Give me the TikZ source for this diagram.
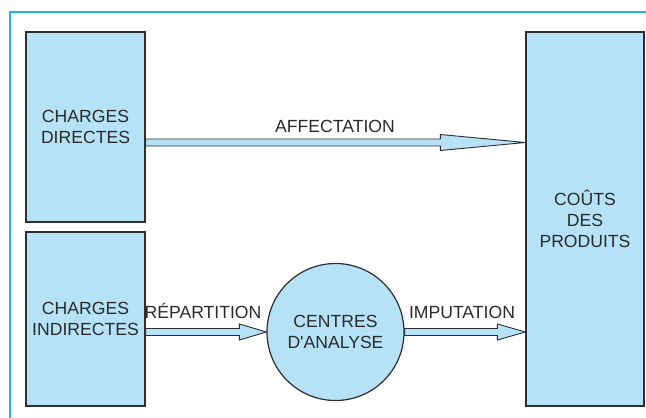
\documentclass[tikz,border=0pt]{standalone}
\usepackage{fontspec}
\setmainfont{Liberation Sans}
\usetikzlibrary{calc}
\usetikzlibrary{positioning}
\definecolor{boxblue}{HTML}{B5E2F7}
\definecolor{framecyan}{HTML}{22B2EC}
\definecolor{edgegray}{HTML}{2E2E2E}
\definecolor{textgray}{HTML}{2A2A2A}
\tikzset{every picture/.style={x=1pt, y=-1pt,
    font=\fontsize{17.6}{21}\selectfont}}
\tikzset{bloc/.style = {draw=edgegray, fill=boxblue, line width=1.2pt,
                        text=textgray, align=center, inner sep=0}}
\tikzset{lbl/.style = {text=textgray, inner sep=0, anchor=base}}
\tikzset{fat/.style = {draw=edgegray, fill=boxblue, line width=0.9pt,
    to path={let \p1=(\tikztostart), \p2=(\tikztotarget) in
      (\x1,\y2+3.5pt) -- (\x2-#1pt,\y2+3.5pt) -- (\x2-#1pt,\y2+8pt)
      -- (\x2,\y2) -- (\x2-#1pt,\y2-8pt) -- (\x2-#1pt,\y2-3.5pt)
      -- (\x1,\y2-3.5pt) -- cycle}}}

\begin{document}
\begin{tikzpicture}
      \useasboundingbox (0,0) rectangle (646,418);
      \draw[framecyan, line width=1.2pt] (10,418) -- (10,12) -- (646,12);
      \node[bloc, minimum width=119pt, minimum height=190pt] (cd)
        at (85.5,127) {CHARGES\\DIRECTES};
      \node[bloc, minimum width=119pt, minimum height=174pt] (ci)
        at (85.5,319) {CHARGES\\INDIRECTES};
      \node[bloc, minimum width=118pt, minimum height=374pt] (cp)
        at (585,219) {CO\^UTS\\DES\\PRODUITS};
      \node[bloc, circle, minimum size=137pt] (ca)
        at (335.5,332) {CENTRES\\D\textquotesingle ANALYSE};
      \coordinate (aff) at (0,142.5);
      \draw[fat=85] (cd.east |- aff) to (cp.west |- aff);
      \draw[fat=27] (ci.east |- ca.west) to (ca.west);
      \draw[fat=28] (ca.east) to (cp.west |- ca.east);
      \node[lbl] (affl) at (335,132) {AFFECTATION};
      \node[lbl] (repl) at (203,318) {R\'EPARTITION};
      \node[lbl] (impl) at (462,318) {IMPUTATION};
\end{tikzpicture}
\end{document}
